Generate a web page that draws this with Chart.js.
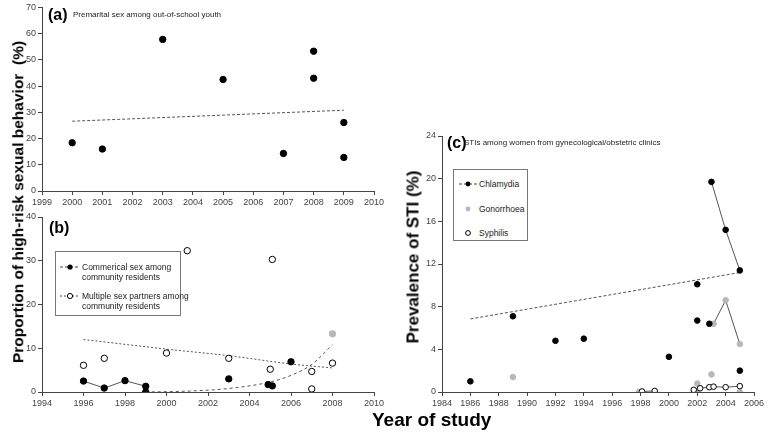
<!DOCTYPE html>
<html>
<head>
<meta charset="utf-8">
<script src="https://cdn.jsdelivr.net/npm/chart.js@4.4.1/dist/chart.umd.min.js"></script>
<style>
  body { margin: 0; background: #fff; font-family: 'Liberation Sans', Arial, sans-serif; }
  #wrap { position: relative; width: 768px; height: 446px; overflow: hidden; }
  canvas { position: absolute; }
  .txt { position: absolute; white-space: nowrap; color: #000; line-height: 1; }
  .panel { font-weight: bold; font-size: 16px; }
  .sub { font-size: 8px; color: #222; }
  .ytitle { font-weight: bold; transform: translate(-50%, -50%) rotate(-90deg); }
  .box { position: absolute; border: 1px solid #777; background: #fff; }
  .entry { position: absolute; font-size: 8.5px; line-height: 10px; color: #222; white-space: nowrap; }
  .entry svg { position: absolute; }
</style>
</head>
<body>
<div id="wrap">
  <canvas id="chartA" width="400" height="210" style="left:0;top:0"></canvas>
  <canvas id="chartB" width="400" height="205" style="left:0;top:205px"></canvas>
  <canvas id="chartC" width="368" height="285" style="left:400px;top:125px"></canvas>

  <div class="txt panel" style="left:48px;top:7px">(a)</div>
  <div class="txt sub" style="left:73px;top:11px">Premarital sex among out-of-school youth</div>
  <div class="txt panel" style="left:49px;top:220px">(b)</div>
  <div class="txt panel" style="left:447px;top:135px">(c)</div>
  <div class="txt sub" style="left:464px;top:139px">STIs among women from gynecological/obstetric clinics</div>

  <div class="txt ytitle" style="left:18px;top:202px;font-size:15.5px">Proportion of high-risk sexual behavior&nbsp; (%)</div>
  <div class="txt ytitle" style="left:413px;top:257px;font-size:17px">Prevalence of STI (%)</div>
  <div class="txt" style="left:372px;top:410px;font-weight:bold;font-size:19px">Year of study</div>

  <div class="box" style="left:55px;top:251px;width:124px;height:63px">
    <div class="entry" style="left:3px;top:10px">
      <svg width="22" height="10" style="left:0;top:0"><line x1="1" y1="5" x2="21" y2="5" stroke="#444" stroke-dasharray="3,2"/><circle cx="11" cy="5" r="2.6" fill="#000"/></svg>
      <span style="margin-left:23px">Commerical sex among</span><br><span style="margin-left:23px">community residents</span>
    </div>
    <div class="entry" style="left:3px;top:39px">
      <svg width="22" height="10" style="left:0;top:0"><line x1="1" y1="5" x2="21" y2="5" stroke="#444" stroke-dasharray="2,2"/><circle cx="11" cy="5" r="2.6" fill="#fff" stroke="#000"/></svg>
      <span style="margin-left:23px">Multiple sex partners among</span><br><span style="margin-left:23px">community residents</span>
    </div>
  </div>

  <div class="box" style="left:453px;top:169px;width:73px;height:70px">
    <div class="entry" style="left:4px;top:9px">
      <svg width="20" height="10" style="left:0;top:0"><line x1="1" y1="5" x2="19" y2="5" stroke="#444" stroke-dasharray="3,2"/><circle cx="10" cy="5" r="2.4" fill="#000"/></svg>
      <span style="margin-left:21px">Chlamydia</span>
    </div>
    <div class="entry" style="left:4px;top:34px">
      <svg width="20" height="10" style="left:0;top:0"><circle cx="10" cy="5" r="2.4" fill="#b8b8b8"/></svg>
      <span style="margin-left:21px">Gonorrhoea</span>
    </div>
    <div class="entry" style="left:4px;top:58px">
      <svg width="20" height="10" style="left:0;top:0"><circle cx="10" cy="5" r="2.4" fill="#fff" stroke="#000"/></svg>
      <span style="margin-left:21px">Syphilis</span>
    </div>
  </div>
</div>

<script>
// (a) premarital sex among out-of-school youth
const aXTicks = [1999, 2000, 2001, 2002, 2003, 2004, 2005, 2006, 2007, 2008, 2009, 2010];
const aYTicks = [0, 10, 20, 30, 40, 50, 60, 70];
const aYears = [2000, 2001, 2003, 2005, 2007, 2008, 2008, 2009, 2009];
const aValues = [18.4, 16.0, 57.8, 42.5, 14.3, 53.3, 43.0, 26.1, 12.8];
const aTrendYears = [2000, 2009];
const aTrendValues = [26.6, 30.8];

// (b) community residents
const bXTicks = [1994, 1996, 1998, 2000, 2002, 2004, 2006, 2008, 2010];
const bYTicks = [0, 10, 20, 30, 40];
const bCommYears = [1996, 1997, 1998, 1999, 1999, 2003, 2004.9, 2005.1, 2006];
const bCommValues = [2.5, 0.9, 2.6, 1.3, 0.0, 3.0, 1.7, 1.4, 6.9];
const bCommLinkYears = [1996, 1997, 1998, 1999];
const bCommLinkValues = [2.5, 0.9, 2.6, 1.3];
const bMultYears = [1996, 1997, 2000, 2001, 2003, 2005, 2005.1, 2007, 2007, 2008];
const bMultValues = [6.1, 7.7, 8.9, 32.3, 7.7, 5.2, 30.3, 4.7, 0.7, 6.6];
const bGreyYears = [2008];
const bGreyValues = [13.3];
const bCommTrendYears = [1999, 2001, 2003, 2005, 2006, 2007, 2008];
const bCommTrendValues = [0.0, 0.2, 0.8, 2.3, 3.8, 6.3, 10.8];
const bMultTrendYears = [1996, 2000, 2003, 2006, 2008];
const bMultTrendValues = [12.0, 9.8, 8.3, 6.4, 5.5];

// (c) STIs among women from gynecological/obstetric clinics
const cXTicks = [1984, 1986, 1988, 1990, 1992, 1994, 1996, 1998, 2000, 2002, 2004, 2006];
const cYTicks = [0, 4, 8, 12, 16, 20, 24];
const cChlamYears = [1986, 1989, 1992, 1994, 2000, 2002, 2002, 2002.85, 2003, 2004, 2005, 2005];
const cChlamValues = [1.0, 7.1, 4.8, 5.0, 3.3, 10.1, 6.7, 6.4, 19.7, 15.2, 11.4, 2.0];
const cChlamLinkYears = [2003, 2004, 2005];
const cChlamLinkValues = [19.7, 15.2, 11.4];
const cGonoYears = [1989, 1997.9, 2002, 2002, 2003, 2003.15, 2004, 2005, 2005];
const cGonoValues = [1.4, 0.0, 0.8, 0.1, 1.65, 6.4, 8.6, 4.5, 0.0];
const cGonoLinkYears = [2003.15, 2004, 2005];
const cGonoLinkValues = [6.4, 8.6, 4.5];
const cSyphYears = [1998.1, 1999, 2001.75, 2002.2, 2002.85, 2003.15, 2004, 2005];
const cSyphValues = [0.05, 0.1, 0.2, 0.35, 0.45, 0.5, 0.45, 0.55];
const cSyphLink1Years = [1998.1, 1999];
const cSyphLink1Values = [0.05, 0.1];
const cSyphLink2Years = [2002.2, 2002.85, 2003.15, 2004, 2005];
const cSyphLink2Values = [0.35, 0.45, 0.5, 0.45, 0.55];
const cTrendYears = [1986, 2005];
const cTrendValues = [6.85, 11.2];

const GREY = '#b8b8b8';

function pts(xs, ys) {
    return xs.map((x, i) => ({ x: x, y: ys[i] }));
}

function axis(ticks, fit) {
    return {
        type: 'linear',
        min: ticks[0],
        max: ticks[ticks.length - 1],
        border: { display: true, color: '#444', width: 1 },
        grid: { display: true, drawOnChartArea: false, drawTicks: true, tickLength: 4, color: '#444' },
        ticks: {
            color: '#444',
            font: { family: 'Liberation Sans', size: 9 },
            padding: 2,
            maxRotation: 0,
            autoSkip: false,
            callback: v => String(v)
        },
        afterBuildTicks: s => { s.ticks = ticks.map(v => ({ value: v })); },
        afterFit: fit
    };
}

function dots(xs, ys, fill, r) {
    return { data: pts(xs, ys), showLine: false, pointRadius: r, pointBackgroundColor: fill,
             pointBorderColor: fill === '#fff' ? '#000' : fill, pointBorderWidth: 1 };
}

// straight joins between points
function link(xs, ys) {
    return { data: pts(xs, ys), showLine: true, pointRadius: 0, borderColor: '#555', borderWidth: 1,
             tension: 0, fill: false };
}

// fitted trend lines (dashed / dotted)
function trend(xs, ys, dash) {
    return { data: pts(xs, ys), showLine: true, pointRadius: 0, borderColor: '#555', borderWidth: 1,
             borderDash: dash, cubicInterpolationMode: 'monotone', fill: false };
}

function makeChart(id, datasets, xTicks, yTicks, yw, xh, pad) {
    return new Chart(document.getElementById(id).getContext('2d'), {
        type: 'scatter',
        data: { datasets: datasets },
        options: {
            responsive: false,
            animation: false,
            devicePixelRatio: 1,
            layout: { padding: pad },
            scales: {
                x: axis(xTicks, s => { s.height = xh; }),
                y: axis(yTicks, s => { s.width = yw; })
            },
            plugins: { legend: { display: false }, tooltip: { enabled: false } }
        }
    });
}

makeChart('chartA', [
    dots(aYears, aValues, '#000', 3.2),
    trend(aTrendYears, aTrendValues, [3, 2])
], aXTicks, aYTicks, 42, 19, { top: 6, right: 26, left: 0, bottom: 0 });

makeChart('chartB', [
    dots(bCommYears, bCommValues, '#000', 3.2),
    dots(bMultYears, bMultValues, '#fff', 3.2),
    dots(bGreyYears, bGreyValues, GREY, 3.2),
    link(bCommLinkYears, bCommLinkValues),
    trend(bCommTrendYears, bCommTrendValues, [3, 3]),
    trend(bMultTrendYears, bMultTrendValues, [2, 2])
], bXTicks, bYTicks, 42, 18, { top: 12, right: 26, left: 0, bottom: 0 });

makeChart('chartC', [
    dots(cChlamYears, cChlamValues, '#000', 2.8),
    dots(cSyphYears, cSyphValues, '#fff', 2.8),
    dots(cGonoYears, cGonoValues, GREY, 2.8),
    link(cChlamLinkYears, cChlamLinkValues),
    link(cGonoLinkYears, cGonoLinkValues),
    link(cSyphLink1Years, cSyphLink1Values),
    link(cSyphLink2Years, cSyphLink2Values),
    trend(cTrendYears, cTrendValues, [3, 2])
], cXTicks, cYTicks, 42, 18, { top: 11, right: 14, left: 0, bottom: 0 });
</script>
</body>
</html>
